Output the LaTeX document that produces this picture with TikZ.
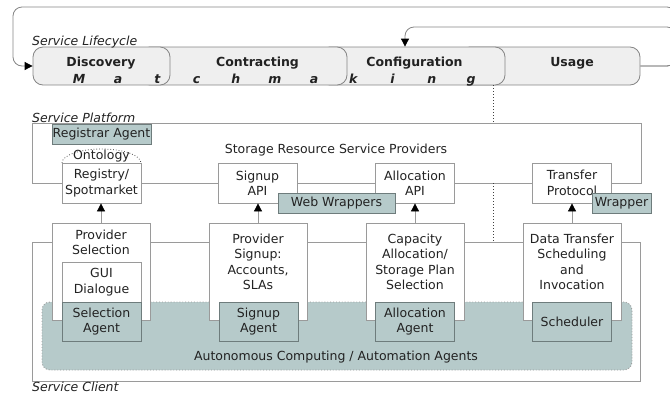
\documentclass[tikz,border=0pt]{standalone}
\usepackage{fontspec}
\setmainfont{DejaVu Sans}
\usetikzlibrary{arrows.meta}
\definecolor{linegray}{HTML}{9A9A9A}
\definecolor{phasefill}{HTML}{EFEFEF}
\definecolor{phaseline}{HTML}{858585}
\definecolor{agentfill}{HTML}{B6CACA}
\definecolor{agentline}{HTML}{6E7C7C}
\definecolor{txt}{HTML}{222222}
\begin{document}
\begin{tikzpicture}[x=1pt,y=-1pt,
  every node/.style={text=txt, font=\fontsize{12.5}{15.5}\selectfont},
  phase/.style={draw=phaseline, fill=phasefill, rounded corners=10pt, line width=0.8pt,
    minimum height=38pt, inner sep=0pt},
  phasetext/.style={font=\fontsize{12.5}{15.5}\selectfont\bfseries, anchor=base, inner sep=0pt},
  mm/.style={font=\fontsize{12.5}{15.5}\selectfont\bfseries\itshape, anchor=base, inner sep=0pt},
  frame/.style={draw=linegray, line width=0.8pt, inner sep=0pt},
  wbox/.style={draw=linegray, fill=white, line width=0.8pt, inner sep=0pt, align=center,
    minimum width=79pt, minimum height=40pt},
  bigbox/.style={draw=linegray, fill=white, line width=0.8pt, inner sep=0pt,
    minimum width=98pt, minimum height=97pt},
  agent/.style={draw=agentline, fill=agentfill, line width=0.8pt, inner sep=0pt, align=center,
    minimum height=20pt},
  agentbox/.style={agent, minimum width=79pt, minimum height=39pt},
  label/.style={align=center, inner sep=0pt},
  title/.style={font=\fontsize{12.5}{15.5}\selectfont\itshape, anchor=base west, inner sep=0pt},
  uparrow/.style={draw=linegray, line width=0.8pt, -{Triangle[width=8pt,length=8pt,color=black]}},
  loopline/.style={draw=phaseline, line width=0.8pt, rounded corners=9pt,
    -{Triangle[width=8pt,length=8pt,color=black]}},
  link/.style={draw=black!75, line width=1pt, dotted}
]
\useasboundingbox (0,0) rectangle (670,394);

% ---------- service lifecycle ----------
\node[phase, minimum width=180pt] (usage) at (550,66) {};
\node[phase, minimum width=185pt] (config) at (412.5,66) {};
\node[phase, minimum width=207pt] (contr) at (243.5,66) {};
\node[phase, minimum width=137pt] (disc) at (101.5,66) {};

\node[phasetext] (tdisc) at (101,66) {Discovery};
\node[phasetext] (tcontr) at (257.5,66) {Contracting};
\node[phasetext] (tconfig) at (414.5,66) {Configuration};
\node[phasetext] (tusage) at (572,66) {Usage};
\foreach \l [count=\i from 0] in {M,a,t,c,h,m,a,k,i,n,g}
  \node[mm] (mm\i) at ({79+39.2*\i},83) {\l};

\node[title] (tlife) at (32,45) {Service Lifecycle};

\coordinate (back) at (405,0);
\draw[loopline] (usage.east) -- (676,66) -- (676,7) -- (13,7) -- (13,66) -- (disc.west);
\draw[loopline] (usage.east) -- (676,66) -- (676,27) -- (405,27) -- (config.north -| back);

% ---------- frames ----------
\node[frame, minimum width=609pt, minimum height=60pt] (platform) at (336.5,153) {};
\node[frame, minimum width=608pt, minimum height=139pt] (client) at (336,311.5) {};
\node[title] (tplat) at (32,122) {Service Platform};
\node[title] (tclient) at (32,391) {Service Client};

\coordinate (linkx) at (493,0);
\draw[link] (config.south -| linkx) -- (platform.north -| linkx);
\draw[link] (platform.south -| linkx) -- (client.north -| linkx);

% ---------- automation agents area ----------
\node[draw=linegray, fill=agentfill, dotted, line width=0.9pt, rounded corners=8pt,
  minimum width=590pt, minimum height=68pt, inner sep=0pt] (auto) at (337,336) {};
\node[label] (tauto) at (336,357) {Autonomous Computing / Automation Agents};

% ---------- platform level ----------
\node[agent, minimum width=99pt] (registrar) at (101.5,134) {Registrar Agent};
\draw[dotted, draw=black!70, line width=0.8pt] (62,163) arc[start angle=180, end angle=0, x radius=39.5pt, y radius=14pt];
\node[label] (onto) at (101.5,156) {Ontology};
\node[label] (storage) at (336,150) {Storage Resource Service Providers};

\node[wbox] (reg) at (101.5,183) {Registry/\\Spotmarket};
\node[wbox] (sapi) at (257.5,183) {Signup\\API};
\node[wbox] (aapi) at (415,183) {Allocation\\API};
\node[wbox] (tproto) at (572,183) {Transfer\\Protocol};
\node[agent, minimum width=117pt] (webw) at (336.5,203) {Web Wrappers};
\node[agent, minimum width=59pt] (wrap) at (621.5,203) {Wrapper};

% ---------- client level ----------
\node[bigbox] (psel) at (101,271.5) {};
\node[bigbox] (psign) at (258,271.5) {};
\node[bigbox] (capa) at (415,271.5) {};
\node[bigbox] (dtrans) at (572,271.5) {};

\node[label] (tpsel) at (101,242.5) {Provider\\Selection};
\node[label] (tpsign) at (258,262) {Provider\\Signup:\\Accounts,\\SLAs};
\node[label] (tcapa) at (415,262) {Capacity\\Allocation/\\Storage Plan\\Selection};
\node[label] (tdtrans) at (572,262) {Data Transfer\\Scheduling\\and\\Invocation};

\node[wbox] (gui) at (101.5,282) {GUI\\Dialogue};
\node[agentbox] (selag) at (101.5,321.5) {Selection\\Agent};
\node[agentbox] (sigag) at (258.5,321.5) {Signup\\Agent};
\node[agentbox] (allag) at (415,321.5) {Allocation\\Agent};
\node[agentbox] (sched) at (572,321.5) {Scheduler};

% ---------- calls from client to platform ----------
\draw[uparrow] (psel.north) -- (psel.north |- reg.south);
\draw[uparrow] (psign.north) -- (psign.north |- sapi.south);
\draw[uparrow] (capa.north) -- (capa.north |- aapi.south);
\draw[uparrow] (dtrans.north) -- (dtrans.north |- tproto.south);
\end{tikzpicture}
\end{document}
